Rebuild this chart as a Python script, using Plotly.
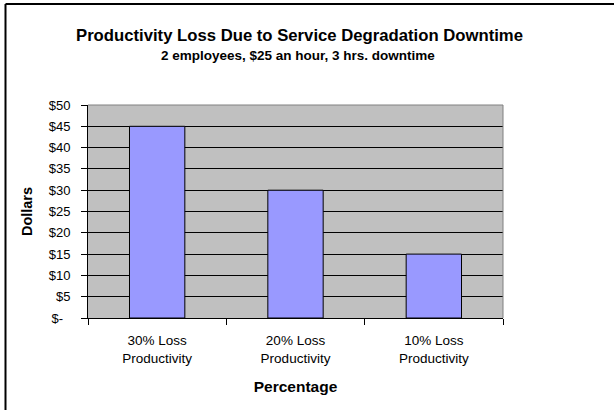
import plotly.graph_objects as go

categories = ["30% Loss<br>Productivity", "20% Loss<br>Productivity", "10% Loss<br>Productivity"]
values = [45, 30, 15]
tick_vals = [0, 5, 10, 15, 20, 25, 30, 35, 40, 45, 50]
tick_text = ["$-\u00a0\u00a0", "$5", "$10", "$15", "$20", "$25", "$30", "$35", "$40", "$45", "$50"]

FONT = "Liberation Sans, Arial, sans-serif"
L, R, T, B = 88, 503, 105, 318
W, H = 614, 410
pw, ph = R - L, B - T

def px(x):
    return (x - L) / pw

def py(y):
    return (B - y) / ph

fig = go.Figure()
fig.add_trace(go.Bar(
    x=categories, y=values,
    marker=dict(color="#9999FF", line=dict(color="black", width=1)),
    width=0.4,
))

fig.update_layout(
    width=W, height=H,
    margin=dict(l=L, r=W - R, t=T, b=H - B, pad=0),
    paper_bgcolor="white",
    plot_bgcolor="#C0C0C0",
    showlegend=False,
    font=dict(family=FONT, color="black", size=13),
    bargap=0.6,
    xaxis=dict(
        type="category",
        showline=True, linecolor="black", linewidth=1,
        ticks="outside", ticklen=6, tickcolor="black", tickwidth=1,
        tickson="boundaries",
        showgrid=False,
        tickfont=dict(size=13.5, family=FONT),
        ticklabelstandoff=10,
        title=dict(text="<b>Percentage</b>", font=dict(size=15.5, family=FONT), standoff=16),
    ),
    yaxis=dict(
        range=[0, 50],
        tickvals=tick_vals, ticktext=tick_text,
        showline=True, linecolor="black", linewidth=1,
        ticks="outside", ticklen=6, tickcolor="black", tickwidth=1,
        showgrid=True, gridcolor="black", gridwidth=1,
        zeroline=False,
        tickfont=dict(size=13, family=FONT),
        ticklabelstandoff=8,
        title=dict(text="<b>Dollars</b>", font=dict(size=14.5, family=FONT), standoff=12),
    ),
)

# plot area gray border (top/right)
fig.add_shape(type="line", xref="paper", yref="paper", x0=0, x1=1, y0=1, y1=1,
              line=dict(color="#808080", width=1))
fig.add_shape(type="line", xref="paper", yref="paper", x0=1, x1=1, y0=0, y1=1,
              line=dict(color="#808080", width=1))

# outer chart frame (left and top edges visible)
fig.add_shape(type="line", xref="paper", yref="paper",
              x0=px(5.5), x1=px(5.5), y0=py(4), y1=py(420),
              line=dict(color="black", width=2))
fig.add_shape(type="line", xref="paper", yref="paper",
              x0=px(5.5), x1=px(620), y0=py(4), y1=py(4),
              line=dict(color="black", width=2))

fig.add_annotation(text="<b>Productivity Loss Due to Service Degradation Downtime</b>",
                   xref="paper", yref="paper", x=px(299), y=py(35.5),
                   showarrow=False, font=dict(size=16.7, family=FONT),
                   xanchor="center", yanchor="middle")
fig.add_annotation(text="<b>2 employees, $25 an hour, 3 hrs. downtime</b>",
                   xref="paper", yref="paper", x=px(298), y=py(55.5),
                   showarrow=False, font=dict(size=13.5, family=FONT),
                   xanchor="center", yanchor="middle")

fig.write_html("out.html")
